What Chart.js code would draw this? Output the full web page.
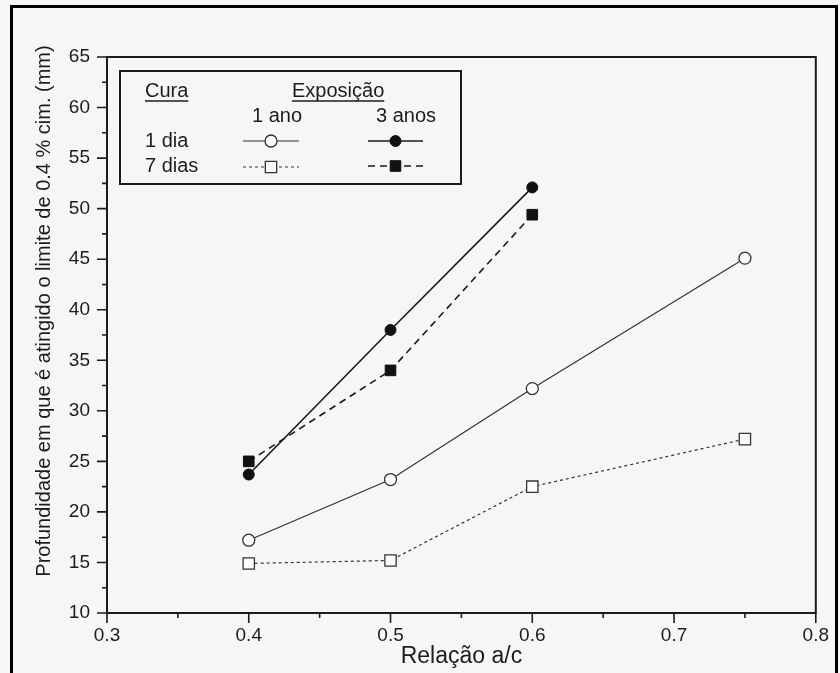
<!DOCTYPE html>
<html>
<head>
<meta charset="utf-8">
<title>Profundidade x Relação a/c</title>
<script src="https://cdn.jsdelivr.net/npm/chart.js@4.4.1/dist/chart.umd.min.js"></script>
<style>
  html, body { margin: 0; padding: 0; background: #f6f6f6; }
  #wrap { width: 840px; height: 673px; position: relative; }
</style>
</head>
<body>
<div id="wrap"><canvas id="grafico" width="840" height="673"></canvas></div>
<script>
// relação água/cimento
const relacaoAC = [0.4, 0.5, 0.6, 0.75];
const relacaoAC3anos = [0.4, 0.5, 0.6];

// profundidade (mm) - exposição 1 ano
const cura1dia1ano = [17.2, 23.2, 32.2, 45.1];
const cura7dias1ano = [14.9, 15.2, 22.5, 27.2];

// profundidade (mm) - exposição 3 anos
const cura1dia3anos = [23.7, 38.0, 52.1];
const cura7dias3anos = [25.0, 34.0, 49.4];

const xTicks = [0.3, 0.4, 0.5, 0.6, 0.7, 0.8];
const yTicks = [10, 15, 20, 25, 30, 35, 40, 45, 50, 55, 60, 65];

const tituloY = 'Profundidade em que é atingido o limite de 0.4 % cim. (mm)';
const tituloX = 'Relação a/c';

const tinta = '#1c1c1c';
const fonte = '"Liberation Sans", Arial, sans-serif';

function pontos(xs, ys) {
    return xs.map((x, i) => ({ x: x, y: ys[i] }));
}

// moldura externa, ticks, título do eixo y e legenda
const extras = {
    id: 'extras',
    beforeDraw(chart) {
        const ctx = chart.ctx;
        ctx.save();
        ctx.fillStyle = '#f6f6f6';
        ctx.fillRect(0, 0, chart.width, chart.height);
        ctx.restore();
    },
    afterDraw(chart) {
        const ctx = chart.ctx;
        const area = chart.chartArea;
        const sx = chart.scales.x;
        const sy = chart.scales.y;
        ctx.save();

        // moldura da figura
        ctx.strokeStyle = '#000';
        ctx.lineWidth = 3;
        ctx.strokeRect(11.5, 6.5, 825, 670);

        // caixa do gráfico
        ctx.strokeStyle = tinta;
        ctx.lineWidth = 2;
        ctx.strokeRect(area.left, area.top, area.right - area.left, area.bottom - area.top);

        // ticks do eixo y (maiores a cada 5, menores a cada 2.5)
        ctx.lineWidth = 1.6;
        ctx.beginPath();
        for (let v = 10; v <= 65; v += 2.5) {
            const py = sy.getPixelForValue(v);
            const len = (v % 5 === 0) ? 10 : 5;
            ctx.moveTo(area.left - len, py);
            ctx.lineTo(area.left, py);
        }
        // ticks do eixo x
        for (let v = 0.3; v <= 0.8001; v += 0.05) {
            const px = sx.getPixelForValue(v);
            const major = Math.abs(Math.round(v * 10) - v * 10) < 1e-6;
            ctx.moveTo(px, area.bottom);
            ctx.lineTo(px, area.bottom + (major ? 10 : 5));
        }
        ctx.stroke();

        // título do eixo y
        ctx.fillStyle = tinta;
        ctx.font = '20px ' + fonte;
        ctx.textAlign = 'center';
        ctx.textBaseline = 'middle';
        ctx.translate(44, 311);
        ctx.rotate(-Math.PI / 2);
        ctx.fillText(tituloY, 0, 0);
        ctx.setTransform(1, 0, 0, 1, 0, 0);

        // legenda
        ctx.lineWidth = 2;
        ctx.strokeStyle = tinta;
        ctx.fillStyle = '#f6f6f6';
        ctx.fillRect(120, 71, 341, 113);
        ctx.strokeRect(120, 71, 341, 113);

        ctx.fillStyle = tinta;
        ctx.font = '20px ' + fonte;
        ctx.textAlign = 'left';
        ctx.textBaseline = 'middle';
        const sublinhado = (txt, x, y) => {
            ctx.fillText(txt, x, y);
            const w = ctx.measureText(txt).width;
            ctx.lineWidth = 1.3;
            ctx.beginPath();
            ctx.moveTo(x, y + 10);
            ctx.lineTo(x + w, y + 10);
            ctx.stroke();
        };
        sublinhado('Cura', 145, 91);
        sublinhado('Exposição', 292, 91);
        ctx.textAlign = 'center';
        ctx.fillText('1 ano', 277, 116);
        ctx.fillText('3 anos', 406, 116);
        ctx.textAlign = 'left';
        ctx.fillText('1 dia', 145, 141);
        ctx.fillText('7 dias', 145, 166);

        // amostras de linha + marcador de cada série
        const dsets = chart.data.datasets;
        [[0, 243, 299, 141], [1, 243, 299, 167], [2, 368, 423, 141], [3, 368, 423, 166]].forEach(([i, a, b, y]) => {
            const ds = dsets[i];
            ctx.save();
            ctx.strokeStyle = ds.borderColor;
            ctx.lineWidth = ds.borderWidth;
            ctx.setLineDash(ds.borderDash || []);
            ctx.beginPath();
            ctx.moveTo(a, y);
            ctx.lineTo(b, y);
            ctx.stroke();
            ctx.restore();
            ctx.save();
            ctx.fillStyle = ds.pointBackgroundColor;
            ctx.strokeStyle = ds.pointBorderColor;
            ctx.lineWidth = ds.pointBorderWidth;
            Chart.helpers.drawPoint(ctx, {
                pointStyle: ds.pointStyle,
                radius: ds.pointRadius,
                borderWidth: ds.pointBorderWidth,
                rotation: 0
            }, (a + b) / 2, y);
            ctx.restore();
        });

        ctx.restore();
    }
};

new Chart(document.getElementById('grafico'), {
    type: 'scatter',
    data: {
        datasets: [
            {
                label: '1 dia - 1 ano',
                data: pontos(relacaoAC, cura1dia1ano),
                showLine: true,
                borderColor: '#333',
                borderWidth: 1.2,
                pointStyle: 'circle',
                pointRadius: 6,
                pointBorderWidth: 1.3,
                pointBackgroundColor: '#fbfbfb',
                pointBorderColor: '#333'
            },
            {
                label: '7 dias - 1 ano',
                data: pontos(relacaoAC, cura7dias1ano),
                showLine: true,
                borderColor: '#333',
                borderWidth: 1.2,
                borderDash: [3, 3],
                pointStyle: 'rect',
                pointRadius: 8,
                pointBorderWidth: 1.3,
                pointBackgroundColor: '#fbfbfb',
                pointBorderColor: '#333'
            },
            {
                label: '1 dia - 3 anos',
                data: pontos(relacaoAC3anos, cura1dia3anos),
                showLine: true,
                borderColor: '#1a1a1a',
                borderWidth: 1.6,
                pointStyle: 'circle',
                pointRadius: 5.5,
                pointBorderWidth: 1,
                pointBackgroundColor: '#111',
                pointBorderColor: '#111'
            },
            {
                label: '7 dias - 3 anos',
                data: pontos(relacaoAC3anos, cura7dias3anos),
                showLine: true,
                borderColor: '#1a1a1a',
                borderWidth: 1.6,
                borderDash: [7, 5],
                pointStyle: 'rect',
                pointRadius: 7.5,
                pointBorderWidth: 1,
                pointBackgroundColor: '#111',
                pointBorderColor: '#111'
            }
        ]
    },
    options: {
        responsive: false,
        animation: false,
        layout: { padding: { top: 57, right: 24, bottom: 3, left: 0 } },
        plugins: {
            legend: { display: false },
            tooltip: { enabled: false }
        },
        scales: {
            x: {
                type: 'linear',
                min: 0.3,
                max: 0.8,
                afterBuildTicks: (scale) => { scale.ticks = xTicks.map(v => ({ value: v })); },
                afterFit: (scale) => { scale.height = 57; },
                grid: { display: false, drawTicks: false },
                border: { display: false },
                ticks: {
                    padding: 11,
                    color: tinta,
                    font: { family: fonte, size: 19 },
                    callback: (v) => v.toFixed(1)
                },
                title: {
                    display: true,
                    text: tituloX,
                    color: tinta,
                    font: { family: fonte, size: 23 },
                    padding: { top: 0, bottom: 0 }
                }
            },
            y: {
                type: 'linear',
                min: 10,
                max: 65,
                afterBuildTicks: (scale) => { scale.ticks = yTicks.map(v => ({ value: v })); },
                afterFit: (scale) => { scale.width = 107; },
                grid: { display: false, drawTicks: false },
                border: { display: false },
                ticks: {
                    padding: 17,
                    color: tinta,
                    font: { family: fonte, size: 19 }
                }
            }
        }
    },
    plugins: [extras]
});
</script>
</body>
</html>
